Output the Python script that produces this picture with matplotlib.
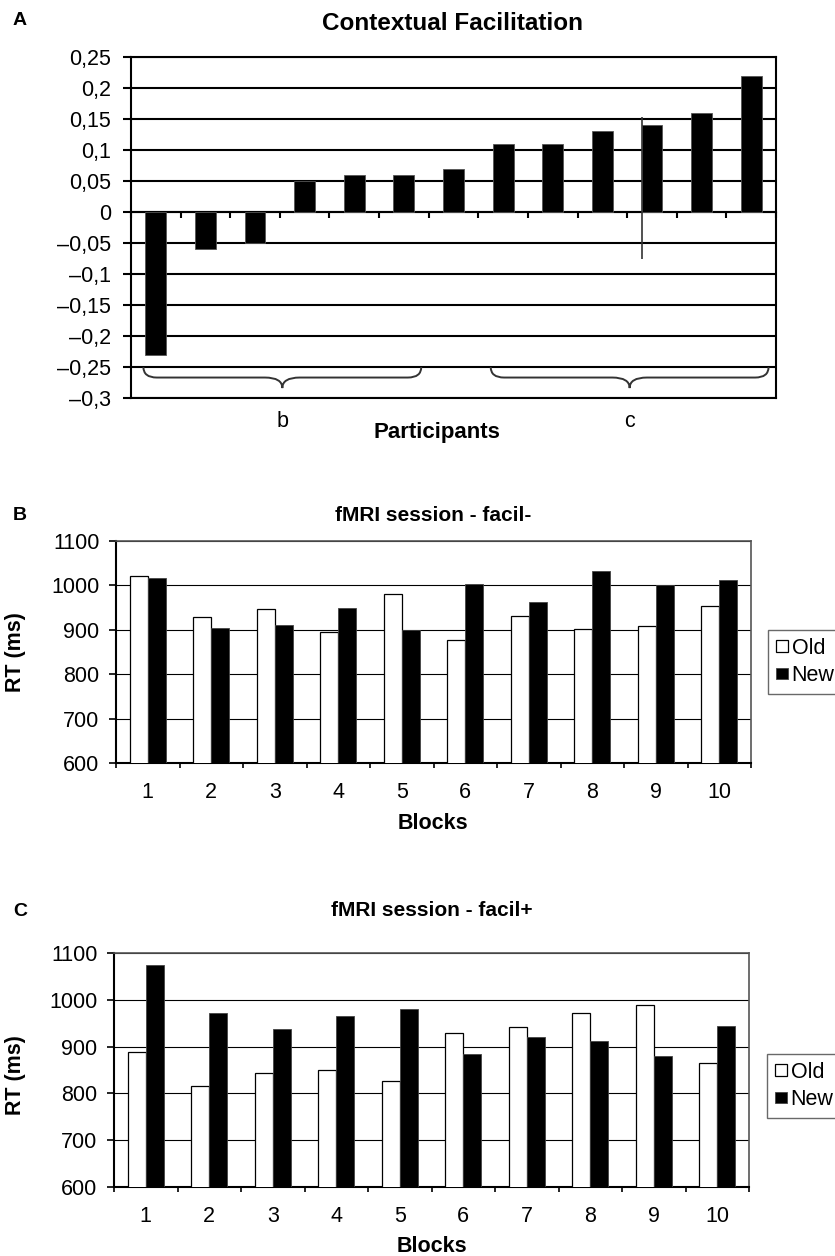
import numpy as np
import matplotlib

matplotlib.use("Agg")
import matplotlib.pyplot as plt
from matplotlib.patches import PathPatch
from matplotlib.path import Path
from matplotlib.ticker import FuncFormatter

plt.rcParams["font.family"] = ["Liberation Sans", "DejaVu Sans"]

# Panel A: contextual facilitation per participant (sorted)
participants = list(range(1, 14))
facilitation = [-0.23, -0.06, -0.05, 0.05, 0.06, 0.06, 0.07, 0.11, 0.11, 0.13, 0.14, 0.16, 0.22]
err_participant = 11
err_low, err_high = -0.075, 0.153
group_b = [1, 2, 3, 4, 5, 6]
group_c = [8, 9, 10, 11, 12, 13]

# Panels B and C: RT per block
blocks = list(range(1, 11))
minus_old = [1022, 928, 946, 895, 981, 877, 930, 901, 908, 954]
minus_new = [1017, 904, 910, 950, 899, 1003, 963, 1032, 1000, 1012]
plus_old = [888, 816, 843, 851, 827, 929, 942, 971, 988, 866]
plus_new = [1075, 971, 937, 966, 980, 884, 920, 912, 879, 945]

W, H = 835, 1256
TICK_FS = 15.5
fig = plt.figure(figsize=(W / 100, H / 100), dpi=100)


def axes_px(left, top, right, bottom):
    return fig.add_axes([left / W, 1 - bottom / H, (right - left) / W, (bottom - top) / H])


def text_px(x, y, s, **kw):
    kw.setdefault("va", "baseline")
    fig.text(x / W, 1 - y / H, s, **kw)


def comma_fmt(v, _pos):
    v = round(v, 2)
    if abs(v) < 1e-9:
        return "0"
    return f"{v:g}".replace(".", ",").replace("-", "\u2013")


def brace(ax, x0, x1, y0, y1, y2, r_end=0.27, r_mid=0.35):
    xm = (x0 + x1) / 2
    verts = [(x0, y0), (x0, y1), (x0 + r_end, y1), (xm - r_mid, y1), (xm, y1), (xm, y2),
             (xm, y1), (xm + r_mid, y1), (x1 - r_end, y1), (x1, y1), (x1, y0)]
    codes = [Path.MOVETO, Path.CURVE3, Path.CURVE3, Path.LINETO, Path.CURVE3, Path.CURVE3,
             Path.CURVE3, Path.CURVE3, Path.LINETO, Path.CURVE3, Path.CURVE3]
    ax.add_patch(PathPatch(Path(verts, codes), fill=False, edgecolor="#333333", lw=1.4, zorder=4))


# ---- Panel A ----
axA = axes_px(131, 57, 776, 398)
xa = np.arange(len(facilitation)) + 0.5
bw = 0.42
axA.bar(xa, facilitation, width=bw, color="black", edgecolor="#555555", linewidth=0.6, zorder=3)
i_err = participants.index(err_participant)
axA.vlines(xa[i_err] - bw / 2, err_low, err_high, color="#333333", lw=1.2, zorder=4)
axA.set_xlim(0, len(facilitation))
axA.set_ylim(-0.3, 0.25)
axA.set_yticks(np.arange(-0.3, 0.2501, 0.05))
axA.yaxis.set_major_formatter(FuncFormatter(comma_fmt))
axA.set_xticks(np.arange(0, len(facilitation) + 1))
axA.set_xticklabels([])
axA.spines["bottom"].set_position(("data", 0))
axA.grid(axis="y", color="black", lw=1.5)
axA.set_axisbelow(True)
axA.tick_params(axis="y", length=5.8, width=1.5, pad=8.6, labelsize=TICK_FS)
axA.tick_params(axis="x", direction="out", length=4.3, width=1.5)
for sp in axA.spines.values():
    sp.set_linewidth(1.5)
axA.plot([0, 1], [0, 0], transform=axA.transAxes, color="black", lw=1.5, clip_on=False)

for grp, lab in ((group_b, "b"), (group_c, "c")):
    x0 = grp[0] - 1 + 0.25
    x1 = grp[-1] - 0.15
    brace(axA, x0, x1, -0.25, -0.267, -0.284)
    axA.annotate(lab, xy=((x0 + x1) / 2, 0), xycoords=("data", "axes fraction"),
                 xytext=(0, -13), textcoords="offset pixels", ha="center", va="top", fontsize=TICK_FS)

text_px(13, 25, "A", fontsize=14, fontweight="bold")
text_px(453, 30, "Contextual Facilitation", fontsize=17.5, fontweight="bold", ha="center")
text_px(437, 438, "Participants", fontsize=16, fontweight="bold", ha="center")


# ---- Panels B and C ----
def rt_panel(ax, old, new, legend_xy):
    xb = np.arange(len(blocks))
    w = 0.285
    ax.bar(xb + 0.5 - w / 2, old, w, color="white", edgecolor="black", lw=0.9, label="Old", zorder=3)
    ax.bar(xb + 0.5 + w / 2, new, w, color="black", edgecolor="#444444", lw=0.6, label="New", zorder=3)
    ax.set_xlim(0, len(blocks))
    ax.set_ylim(600, 1100)
    ax.set_yticks(range(600, 1101, 100))
    ax.set_xticks(np.arange(0, len(blocks) + 1))
    ax.set_xticklabels([])
    ax.set_xticks(xb + 0.5, minor=True)
    ax.set_xticklabels([str(b) for b in blocks], minor=True)
    ax.tick_params(axis="x", which="minor", length=0, pad=14, labelsize=TICK_FS)
    ax.tick_params(axis="x", which="major", length=3.6, width=1.2)
    ax.tick_params(axis="y", length=5, width=1.2, pad=7, labelsize=TICK_FS)
    ax.grid(axis="y", color="black", lw=0.8)
    ax.set_axisbelow(True)
    for side in ("left", "bottom"):
        ax.spines[side].set_linewidth(1.5)
    for side in ("top", "right"):
        ax.spines[side].set_linewidth(1.2)
        ax.spines[side].set_color("#555555")
    leg = ax.legend(loc="upper left", bbox_to_anchor=(legend_xy[0] / W, 1 - legend_xy[1] / H),
                    bbox_transform=fig.transFigure, fontsize=TICK_FS, fancybox=False, edgecolor="#444444",
                    handlelength=0.6, handleheight=0.45, handletextpad=0.15, borderpad=0.35,
                    borderaxespad=0, labelspacing=0.3)
    leg.get_frame().set_linewidth(1.0)


axB = axes_px(116, 541, 751, 763)
rt_panel(axB, minus_old, minus_new, (768, 630))
text_px(13, 520, "B", fontsize=14, fontweight="bold")
text_px(433, 521, "fMRI session - facil-", fontsize=15, fontweight="bold", ha="center")
text_px(16, 652, "RT (ms)", fontsize=15.5, fontweight="bold", rotation=90, ha="center", va="center")
text_px(433, 829, "Blocks", fontsize=15.5, fontweight="bold", ha="center")

axC = axes_px(114, 953, 749, 1187)
rt_panel(axC, plus_old, plus_new, (767, 1054))
text_px(13, 916, "C", fontsize=14, fontweight="bold")
text_px(432, 916, "fMRI session - facil+", fontsize=15, fontweight="bold", ha="center")
text_px(16, 1075, "RT (ms)", fontsize=15.5, fontweight="bold", rotation=90, ha="center", va="center")
text_px(432, 1252, "Blocks", fontsize=15.5, fontweight="bold", ha="center")

fig.savefig("out.png", dpi=100, facecolor="white")
